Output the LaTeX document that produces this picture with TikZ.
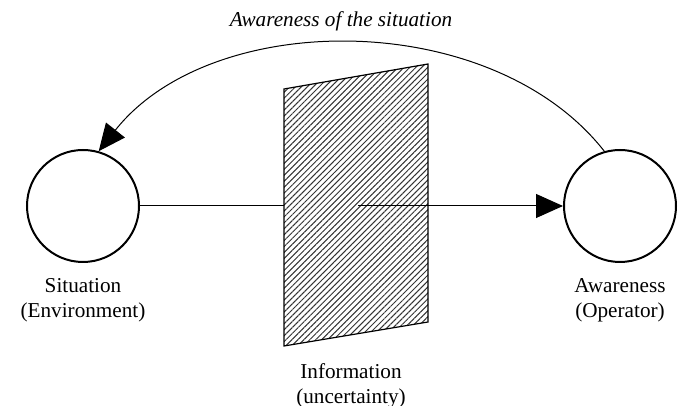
\documentclass[tikz,border=0pt]{standalone}
\usepackage{fontspec}
\setmainfont{Liberation Serif}
\usetikzlibrary{positioning,arrows.meta,patterns.meta}
\tikzset{
  state/.style={draw,circle,line width=1pt,minimum size=56pt,inner sep=0pt},
  caption/.style={align=center,inner sep=0pt,font=\fontsize{10.6}{12.5}\selectfont},
  heading/.style={inner sep=0pt,font=\fontsize{10.6}{12.5}\selectfont\itshape},
  flow/.style={line width=0.5pt},
  bigtip/.style={-{Triangle[length=13.5pt,width=12pt]}}
}
\begin{document}
\begin{tikzpicture}[x=0.5pt,y=0.5pt]
  \useasboundingbox (0,0) rectangle (681,406);
  \fill[pattern={Lines[angle=45,distance=2.1pt,line width=0.5pt]},pattern color=black!80]
    (284,317) -- (428,342) -- (428,84) -- (284,60) -- cycle;
  \draw[line width=0.6pt] (284,317) -- (428,342) -- (428,84) -- (284,60) -- cycle;
  \node[state] (sit) at (83,200) {};
  \node[state] (aware) at (620,200) {};
  \coordinate (pl) at (284,200);
  \coordinate (pm) at (358,200);
  \draw[flow] (sit) -- (pl);
  \draw[flow,bigtip] (pm) -- (aware);
  \draw[flow,bigtip] (aware.106) .. controls (492,398) and (212,398) .. (sit.74);
  \node[caption,below=7.5pt of sit] (sitlabel) {Situation\\(Environment)};
  \node[caption,below=7.5pt of aware] (awarelabel) {Awareness\\(Operator)};
  \node[caption,anchor=north] (info) at (351,43) {Information\\(uncertainty)};
  \node[heading,anchor=base] (title) at (341,379) {Awareness of the situation};
\end{tikzpicture}
\end{document}
